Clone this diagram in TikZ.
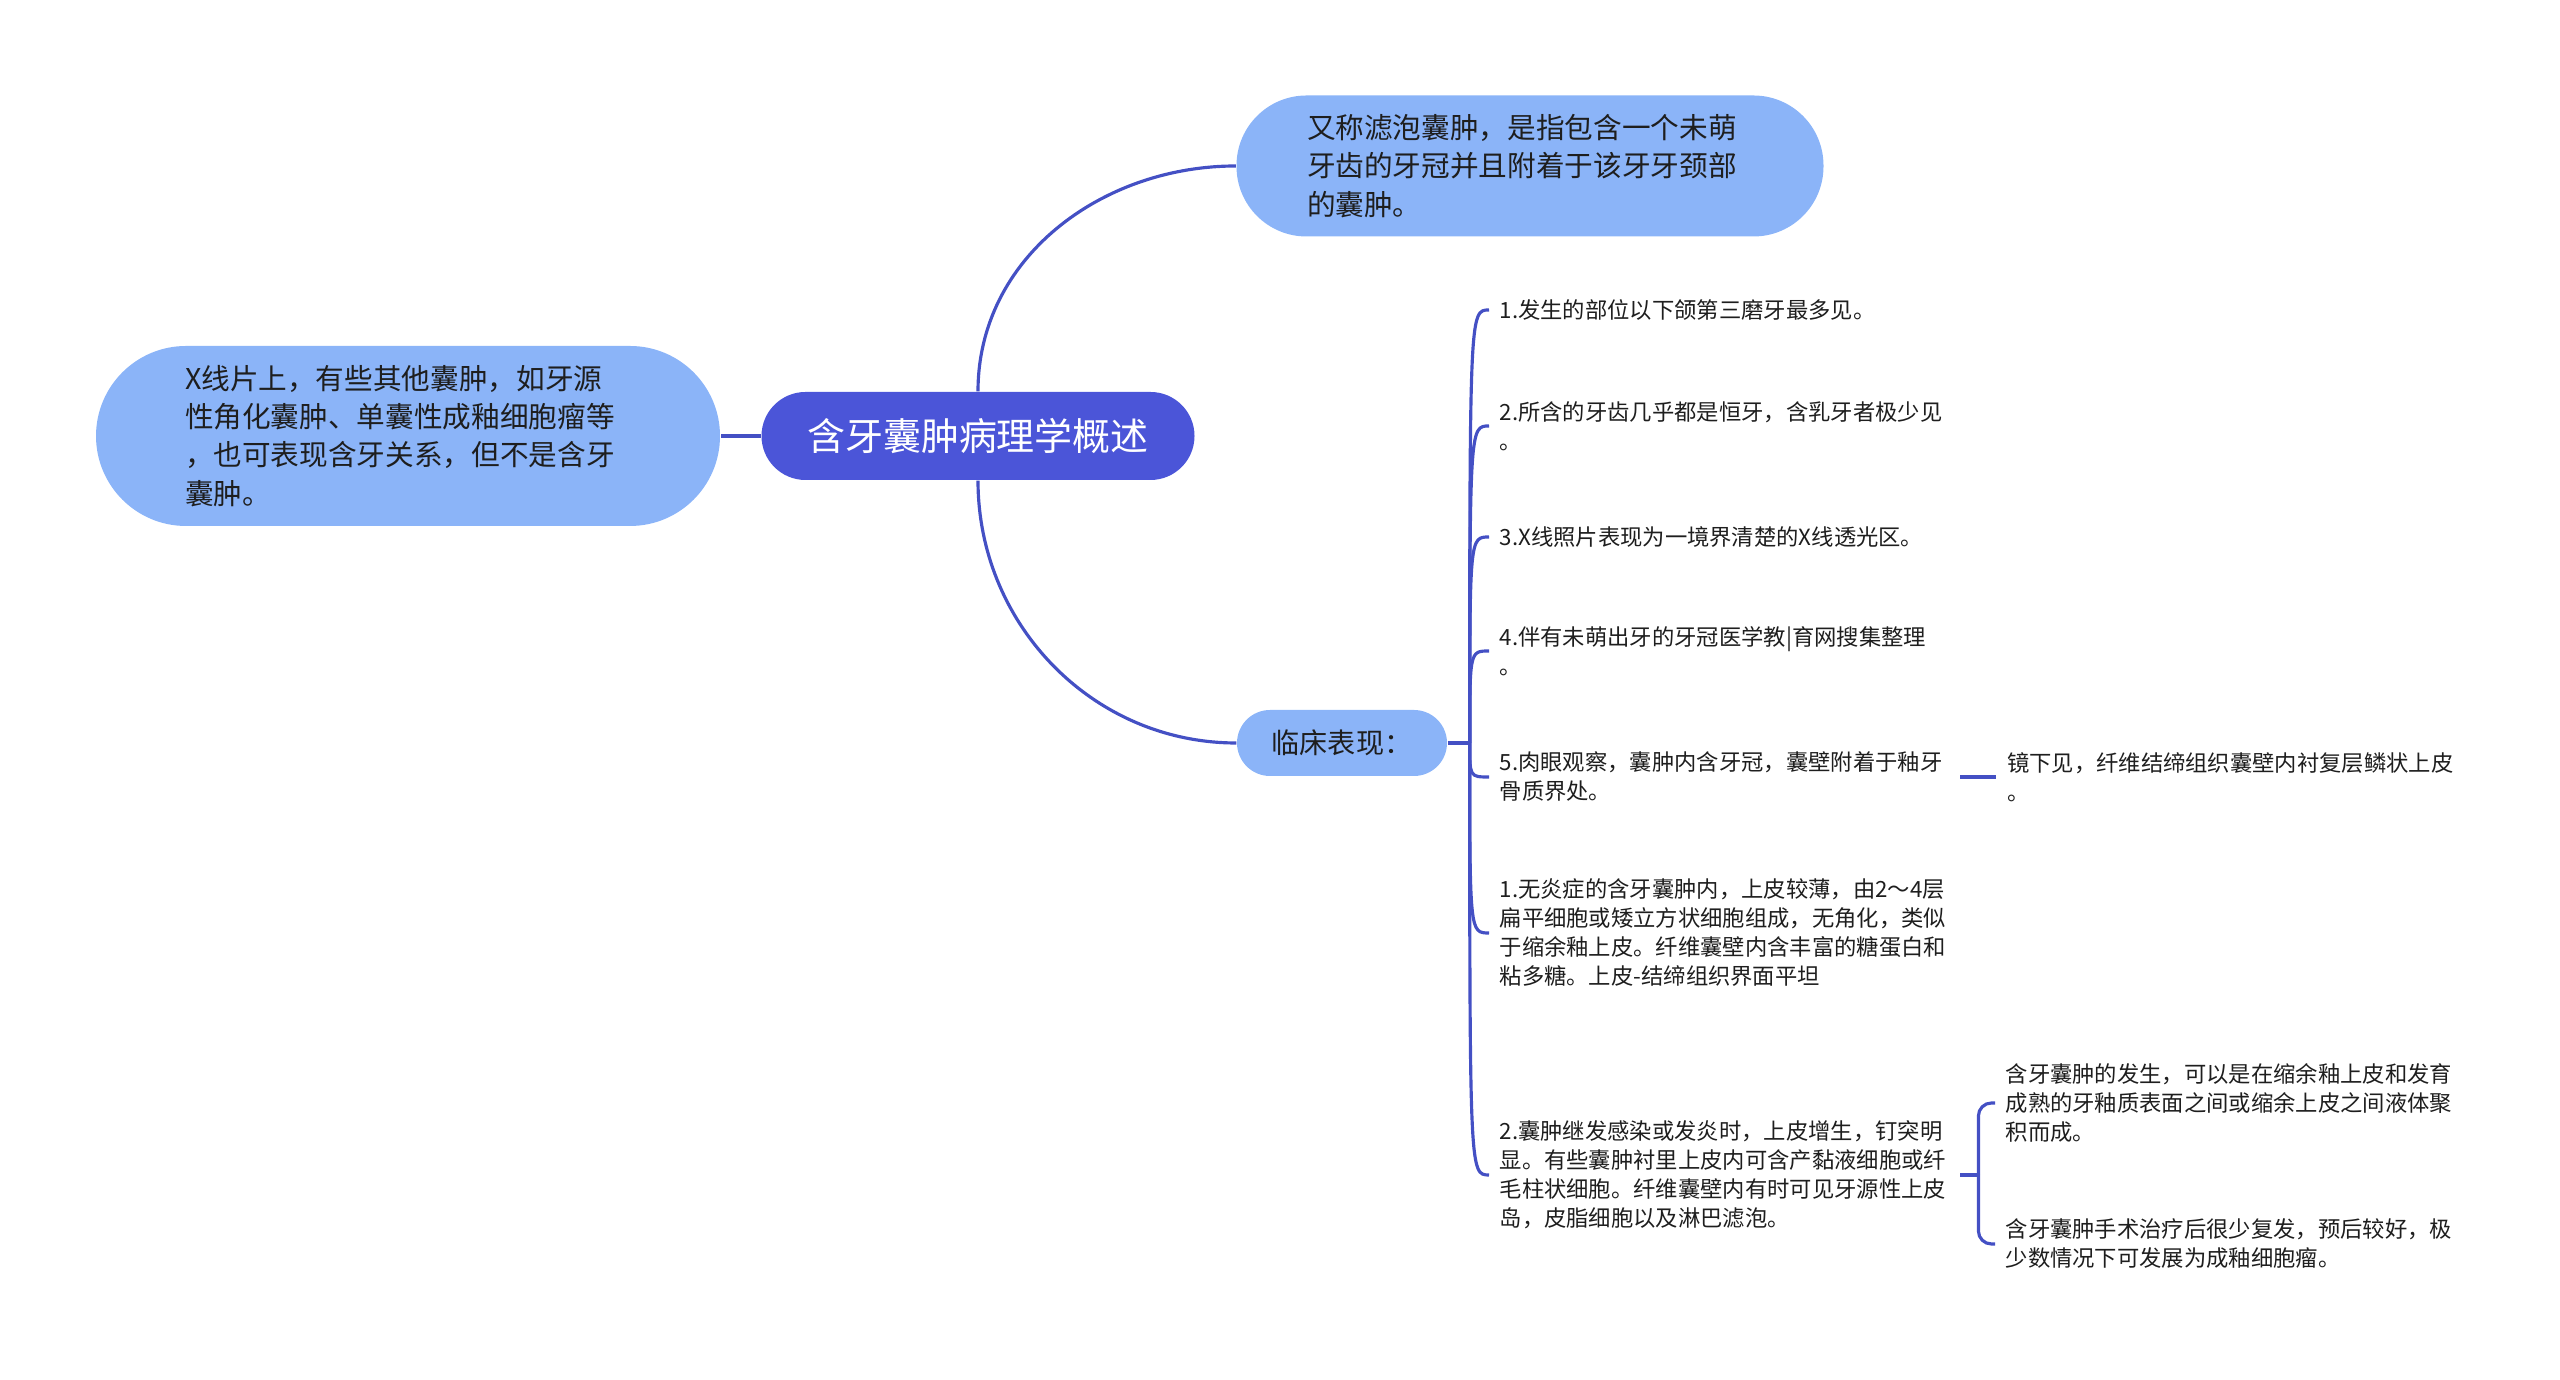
\documentclass[tikz,border=0pt]{standalone}
\usepackage{fontspec}
\usepackage{tikz}
\usetikzlibrary{positioning,calc}
\newfontfamily\cjk{Noto Sans CJK SC}
\definecolor{rootblue}{HTML}{4B55D8}
\definecolor{bubbleblue}{HTML}{8BB4F8}
\definecolor{linkblue}{HTML}{4450C4}
\definecolor{ink}{HTML}{1E1E1E}

\begin{document}
\begin{tikzpicture}[every node/.style={font=\cjk,text=ink,align=left,inner sep=0pt},bubble/.style={fill=bubbleblue,rounded corners=#1,font=\cjk\fontsize{8.15}{10.9}\selectfont},leaf/.style={anchor=west,inner xsep=0.1cm,text width=4.5cm,font=\cjk\fontsize{6.35}{8.25}\selectfont},link/.style={draw=linkblue,line width=0.9pt}]
\useasboundingbox (0,0) rectangle (25.6,13.8);
\node[fill=rootblue,rounded corners=0.44cm,minimum width=4.33cm,minimum height=0.88cm,align=center,text=white,font=\cjk\fontsize{10.8}{13}\selectfont] (root) at (9.78,9.44) {含牙囊肿病理学概述};
\node[bubble=0.7cm,minimum width=5.87cm,minimum height=1.41cm,text width=4.46cm] (top) at (15.30,12.14) {又称滤泡囊肿，是指包含一个未萌\\牙齿的牙冠并且附着于该牙牙颈部\\的囊肿。};
\node[bubble=0.9cm,minimum width=6.24cm,minimum height=1.80cm,text width=4.46cm] (left) at (4.08,9.44) {X线片上，有些其他囊肿，如牙源\\性角化囊肿、单囊性成釉细胞瘤等\\，也可表现含牙关系，但不是含牙\\囊肿。};
\node[bubble=0.33cm,minimum width=2.10cm,minimum height=0.66cm,font=\cjk\fontsize{8}{10}\selectfont] (lc) at (13.42,6.37) {临床表现：};
% clinical findings
\node[leaf] (c1) at (14.89,10.70) {1.发生的部位以下颌第三磨牙最多见。};
\node[leaf] (c2) at (14.89,9.54) {2.所含的牙齿几乎都是恒牙，含乳牙者极少见\\。};
\node[leaf] (c3) at (14.89,8.43) {3.X线照片表现为一境界清楚的X线透光区。};
\node[leaf] (c4) at (14.89,7.29) {4.伴有未萌出牙的牙冠医学教|育网搜集整理\\。};
\node[leaf] (c5) at (14.89,6.03) {5.肉眼观察，囊肿内含牙冠，囊壁附着于釉牙\\骨质界处。};
\node[leaf] (c6) at (14.89,4.47) {1.无炎症的含牙囊肿内，上皮较薄，由2～4层\\扁平细胞或矮立方状细胞组成，无角化，类似\\于缩余釉上皮。纤维囊壁内含丰富的糖蛋白和\\粘多糖。上皮-结缔组织界面平坦};
\node[leaf] (c7) at (14.89,2.05) {2.囊肿继发感染或发炎时，上皮增生，钉突明\\显。有些囊肿衬里上皮内可含产黏液细胞或纤\\毛柱状细胞。纤维囊壁内有时可见牙源性上皮\\岛，皮脂细胞以及淋巴滤泡。};
\node[leaf,right=0.36cm of c5] (s5) {镜下见，纤维结缔组织囊壁内衬复层鳞状上皮\\。};
\node[leaf] (s7a) at (19.95,2.77) {含牙囊肿的发生，可以是在缩余釉上皮和发育\\成熟的牙釉质表面之间或缩余上皮之间液体聚\\积而成。};
\node[leaf] (s7b) at (19.95,1.36) {含牙囊肿手术治疗后很少复发，预后较好，极\\少数情况下可发展为成釉细胞瘤。};
% connectors
\draw[link] (root.north) to[out=90,in=180] (top.west);
\draw[link] (root.south) to[out=-90,in=180] (lc.west);
\draw[link] (root.west) -- (left.east);
\coordinate[right=0.22cm of lc.east] (hub);
\draw[link] (lc.east) -- (hub);
\foreach \c in {c1,c2,c3,c4,c5,c6,c7}
  \draw[link] (hub) .. controls (hub |- \c.west) .. (\c.west);
\draw[link] (c5.east) -- (s5.west);
\coordinate[right=0.18cm of c7.east] (fork);
\draw[link] (c7.east) -- (fork);
\draw[link,rounded corners=0.13cm] (fork) |- (s7a.west);
\draw[link,rounded corners=0.13cm] (fork) |- (s7b.west);
\end{tikzpicture}
\end{document}
